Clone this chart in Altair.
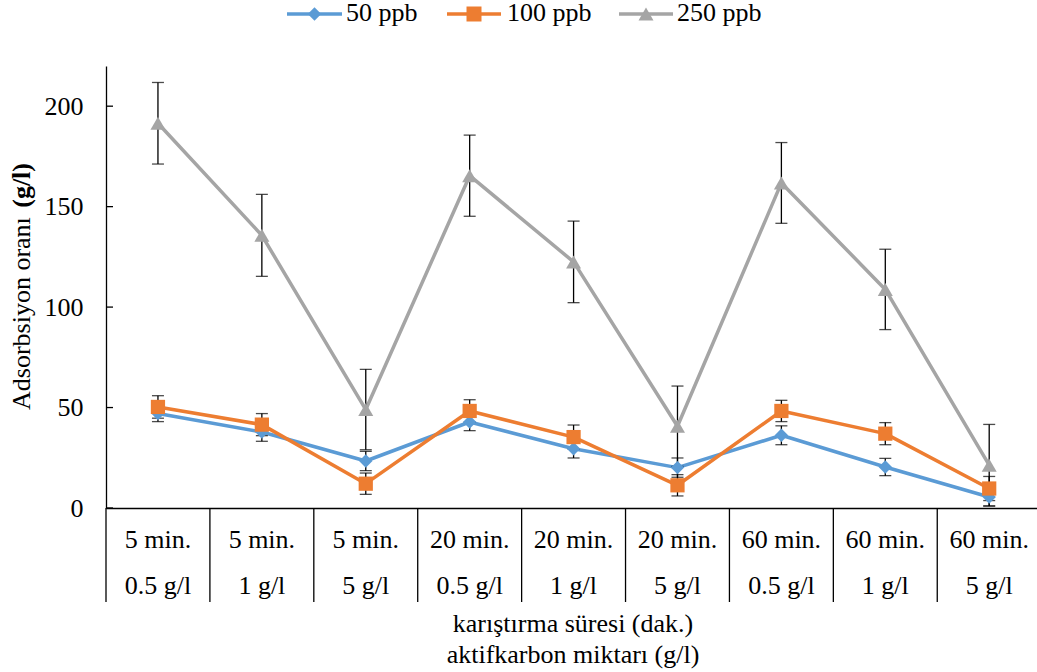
import altair as alt
import pandas as pd

# ---- data ----
times = ["5 min.", "5 min.", "5 min.", "20 min.", "20 min.", "20 min.", "60 min.", "60 min.", "60 min."]
doses = ["0.5 g/l", "1 g/l", "5 g/l", "0.5 g/l", "1 g/l", "5 g/l", "0.5 g/l", "1 g/l", "5 g/l"]
series = ["50 ppb", "100 ppb", "250 ppb"]
v50 = [47.0, 37.8, 23.4, 42.8, 29.5, 20.1, 36.2, 20.4, 5.5]
e50 = [4.0, 4.6, 4.8, 4.3, 4.6, 4.8, 4.7, 4.3, 4.5]
v100 = [50.3, 41.5, 12.1, 48.3, 35.3, 11.3, 48.3, 37.0, 9.7]
e100 = [5.6, 5.5, 5.3, 5.6, 6.0, 5.3, 5.3, 5.5, 6.0]
v250 = [191.5, 135.7, 49.0, 165.4, 122.5, 40.7, 161.8, 108.8, 21.3]
e250 = [20.3, 20.4, 20.0, 20.2, 20.3, 20.0, 20.1, 20.0, 20.3]
colors = ["#5B9BD5", "#ED7D31", "#A5A5A5"]
shapes = ["diamond", "square", "triangle-up"]
sizes = [180, 225, 225]
y_ticks = [0, 50, 100, 150, 200]
x_title = ["karıştırma süresi (dak.)", "aktifkarbon miktarı (g/l)"]
y_title_regular = "Adsorbsiyon oranı"
y_title_bold = "(g/l)"

FONT = "Liberation Serif"
FS = 26
W, H = 931, 442

rows = []
for s, vals, errs in zip(series, [v50, v100, v250], [e50, e100, e250]):
    for i, (v, e) in enumerate(zip(vals, errs)):
        rows.append(dict(series=s, pos=i + 0.5, value=v, lo=v - e, hi=v + e))
df = pd.DataFrame(rows)

cats = pd.DataFrame({"pos": [i + 0.5 for i in range(len(times))], "time": times, "dose": doses})
seps = pd.DataFrame({"pos": list(range(len(times)))})
ticks = pd.DataFrame({"value": y_ticks})

xscale = alt.Scale(domain=[0, 8.96], nice=False, zero=False)
yscale = alt.Scale(domain=[0, 220], nice=False)
xenc = alt.X("pos:Q", scale=xscale,
             axis=alt.Axis(labels=False, ticks=False, title=None, grid=False,
                           domainColor="#000000", domainWidth=1.3))
yenc = alt.Y("value:Q", scale=yscale,
             axis=alt.Axis(values=y_ticks, ticks=False, labelPadding=23, grid=False, title=None,
                           labelFont=FONT, labelFontSize=FS, labelColor="#000000",
                           domainColor="#000000", domainWidth=1.3))
color = alt.Color("series:N", scale=alt.Scale(domain=series, range=colors), legend=None)
shape = alt.Shape("series:N", scale=alt.Scale(domain=series, range=shapes), legend=None)
size = alt.Size("series:N", scale=alt.Scale(domain=series, range=sizes), legend=None)

base = alt.Chart(df)
lines = base.mark_line(strokeWidth=3.5, strokeJoin="round").encode(x=xenc, y=yenc, color=color)
err = base.mark_rule(color="#000000", strokeWidth=1.3).encode(
    x="pos:Q", y="lo:Q", y2="hi:Q")
cap_lo = base.mark_tick(orient="horizontal", color="#000000", size=12, thickness=1.3).encode(
    x="pos:Q", y="lo:Q")
cap_hi = base.mark_tick(orient="horizontal", color="#000000", size=12, thickness=1.3).encode(
    x="pos:Q", y="hi:Q")
points = base.mark_point(filled=True, opacity=1).encode(
    x="pos:Q", y="value:Q", color=color, shape=shape, size=size)

inner_ticks = alt.Chart(ticks).mark_rule(color="#000000", strokeWidth=1.3).encode(
    y=alt.Y("value:Q"), x=alt.value(0), x2=alt.value(7))

separators = alt.Chart(seps).mark_rule(color="#000000", strokeWidth=1.3).encode(
    x="pos:Q", y=alt.value(H), y2=alt.value(H + 94))

lab1 = alt.Chart(cats).mark_text(font=FONT, fontSize=FS, color="#000000", baseline="alphabetic").encode(
    x="pos:Q", y=alt.value(H + 40), text="time:N")
lab2 = alt.Chart(cats).mark_text(font=FONT, fontSize=FS, color="#000000", baseline="alphabetic").encode(
    x="pos:Q", y=alt.value(H + 86), text="dose:N")

one = pd.DataFrame({"a": [0]})
xt1 = alt.Chart(one).mark_text(font=FONT, fontSize=FS, color="#000000", baseline="alphabetic",
                               text=x_title[0]).encode(x=alt.value(467), y=alt.value(H + 124))
xt2 = alt.Chart(one).mark_text(font=FONT, fontSize=FS, color="#000000", baseline="alphabetic",
                               text=x_title[1]).encode(x=alt.value(467), y=alt.value(H + 155))
yt1 = alt.Chart(one).mark_text(font=FONT, fontSize=FS, color="#000000", baseline="middle",
                               angle=270, align="left", text=y_title_regular).encode(
    x=alt.value(-84), y=alt.value(344))
yt2 = alt.Chart(one).mark_text(font=FONT, fontSize=FS, color="#000000", baseline="middle",
                               angle=270, align="right", fontWeight="bold", text=y_title_bold).encode(
    x=alt.value(-84), y=alt.value(97))

# manual legend (line through marker)
leg_line_x0 = [181, 341, 513]
leg_line_x1 = [236, 395, 567]
leg_text_x = [240, 401, 571]
leg_y = -52
legend_layers = []
for i, s in enumerate(series):
    d = pd.DataFrame({"label": [s]})
    legend_layers.append(alt.Chart(d).mark_rule(color=colors[i], strokeWidth=3.5).encode(
        x=alt.value(leg_line_x0[i]), x2=alt.value(leg_line_x1[i]), y=alt.value(leg_y)))
    legend_layers.append(alt.Chart(d).mark_point(filled=True, opacity=1, color=colors[i],
                                                 shape=shapes[i], size=sizes[i]).encode(
        x=alt.value((leg_line_x0[i] + leg_line_x1[i]) / 2), y=alt.value(leg_y)))
    legend_layers.append(alt.Chart(d).mark_text(font=FONT, fontSize=FS, color="#000000",
                                                align="left", baseline="alphabetic").encode(
        x=alt.value(leg_text_x[i]), y=alt.value(leg_y + 7), text="label:N"))

chart = alt.layer(
    lines, err, cap_lo, cap_hi, points, inner_ticks, separators, lab1, lab2,
    xt1, xt2, yt1, yt2, *legend_layers
).properties(
    width=W, height=H,
    autosize=alt.AutoSizeParams(type="none"),
    padding={"left": 106, "top": 66, "right": 0, "bottom": 164},
    background="white",
).configure_view(stroke=None)

chart.save("out.html", embed_options={"renderer": "svg", "actions": False})
